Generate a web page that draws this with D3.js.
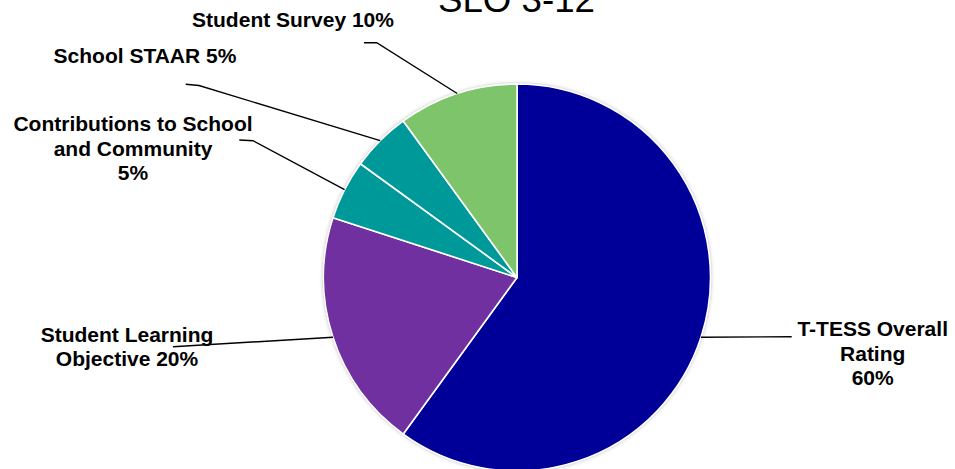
<!DOCTYPE html>
<html>
<head>
<meta charset="utf-8">
<script src="https://cdn.jsdelivr.net/npm/d3@7"></script>
<style>
  html, body { margin: 0; padding: 0; background: #fff; }
  svg { display: block; }
</style>
</head>
<body>
<svg id="chart" width="955" height="469"></svg>
<script>
// ---- data ----
const title = "SLO 3-12";
const categories = ["T-TESS Overall Rating", "Student Learning Objective", "Contributions to School and Community", "School STAAR", "Student Survey"];
const values = [60, 20, 5, 5, 10];
const labelLines = [
  ["T-TESS Overall", "Rating", "60%"],
  ["Student Learning", "Objective 20%"],
  ["Contributions to School", "and Community", "5%"],
  ["School STAAR 5%"],
  ["Student Survey 10%"]
];
const colors = ["#000099", "#7030A0", "#009999", "#009999", "#7DC46B"];

// ---- layout ----
const cx = 517, cy = 277.5, R = 193.5;
const labelLayout = [
  { x: 872.7, y: 336, bend: [[791.7, 336.7]] },
  { x: 127, y: 341.7, bend: [[173, 346.7]] },
  { x: 133, y: 131, bend: [[253, 140.7], [239.3, 140]] },
  { x: 145, y: 63.3, bend: [[199, 85.5], [185.7, 84.3]] },
  { x: 293, y: 26.7, bend: [[376.7, 42.7], [364, 42.7]] }
];
const lineH = 24.6;

const svg = d3.select("#chart");
const defs = svg.append("defs");
const f = defs.append("filter").attr("id", "shadow").attr("x", "-10%").attr("y", "-10%").attr("width", "120%").attr("height", "120%");
f.append("feDropShadow").attr("dx", 0).attr("dy", 0).attr("stdDeviation", 2.2).attr("flood-color", "#000").attr("flood-opacity", 0.35);

svg.append("text")
  .attr("x", 516.5).attr("y", 12)
  .attr("text-anchor", "middle")
  .attr("font-family", "Liberation Sans, Arial, sans-serif")
  .attr("font-size", 36.7)
  .attr("fill", "#000")
  .text(title);

const pie = d3.pie().sort(null).value(d => d)(values);
const arc = d3.arc().innerRadius(0).outerRadius(R);
const edgeArc = d3.arc().innerRadius(R).outerRadius(R);

const g = svg.append("g").attr("transform", `translate(${cx},${cy})`);
g.append("circle").attr("r", R).attr("fill", "#fff").attr("filter", "url(#shadow)");
g.selectAll("path.slice").data(pie).join("path")
  .attr("class", "slice")
  .attr("d", arc)
  .attr("fill", (d, i) => colors[i])
  .attr("stroke", "#fff")
  .attr("stroke-width", 1.6)
  .attr("stroke-linejoin", "round");

// leader lines
const line = d3.line();
pie.forEach((d, i) => {
  const c = edgeArc.centroid(d);
  const pts = [[cx + c[0], cy + c[1]], ...labelLayout[i].bend];
  svg.append("path")
    .attr("d", line(pts))
    .attr("fill", "none")
    .attr("stroke", "#000")
    .attr("stroke-width", 1.4);
});

// labels
labelLines.forEach((lines, i) => {
  const t = svg.append("text")
    .attr("text-anchor", "middle")
    .attr("font-family", "Liberation Sans, Arial, sans-serif")
    .attr("font-weight", "bold")
    .attr("font-size", 21)
    .attr("fill", "#000");
  lines.forEach((s, j) => {
    t.append("tspan").attr("x", labelLayout[i].x).attr("y", labelLayout[i].y + j * lineH).text(s);
  });
});
</script>
</body>
</html>
